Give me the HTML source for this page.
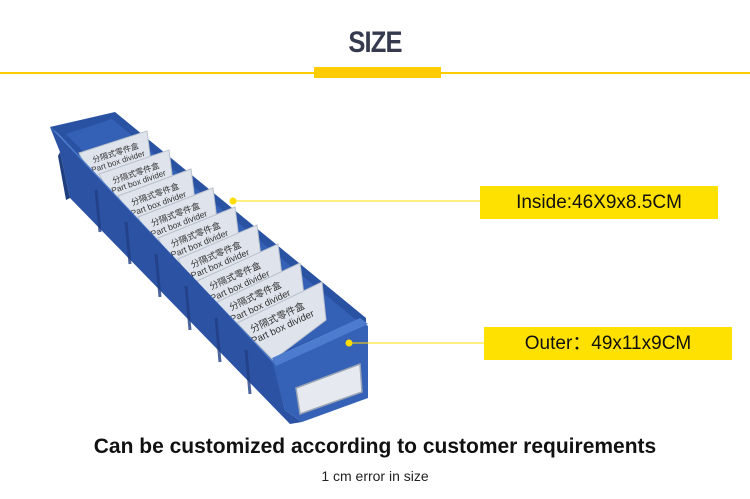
<!DOCTYPE html>
<html><head><meta charset="utf-8"><style>
body{margin:0;width:750px;height:499px;background:#fff;overflow:hidden;position:relative;font-family:"Liberation Sans","Noto Sans CJK SC",sans-serif}
.t{position:absolute;left:0;width:750px;text-align:center}
.lab{position:absolute;background:#ffe100;color:#111;font-size:19px;line-height:33px;text-align:center}
</style></head><body>
<div class="t" style="top:26px;font-size:30px;font-weight:bold;color:#363a4f;letter-spacing:-1px;transform:scaleX(0.85)">SIZE</div>
<div style="position:absolute;left:0;top:72px;width:750px;height:2px;background:#ffcc00"></div>
<div style="position:absolute;left:314px;top:67px;width:127px;height:11px;background:#ffcc00"></div>
<svg width="750" height="499" style="position:absolute;left:0;top:0" font-family="Liberation Sans, Noto Sans CJK SC, sans-serif">
<polygon points="50,127 115,112 366,318 366,330 272,366" fill="#2a52a3"/>
<polygon points="66,134 112,119 356,320 282,352" fill="#3461b6"/>
<g fill="#333">
<g><polygon points="79,153 147,131 152,171 99,191" fill="#dfe4ec" stroke="#b8c0cc"/><text transform="translate(84,166) rotate(-18)" font-size="8"><tspan x="10" y="0">分隔式零件盒</tspan><tspan x="6" y="9">Part box divider</tspan></text></g>
<g><polygon points="99,174 169,150 174,190 119,212" fill="#dfe4ec" stroke="#b8c0cc"/><text transform="translate(104,187) rotate(-19)" font-size="8.2"><tspan x="10" y="0">分隔式零件盒</tspan><tspan x="6" y="9">Part box divider</tspan></text></g>
<g><polygon points="118,196 191,169 196,209 138,234" fill="#dfe4ec" stroke="#b8c0cc"/><text transform="translate(123,209) rotate(-20)" font-size="8.4"><tspan x="10" y="0">分隔式零件盒</tspan><tspan x="6" y="10">Part box divider</tspan></text></g>
<g><polygon points="138,217 213,188 218,228 158,255" fill="#dfe4ec" stroke="#b8c0cc"/><text transform="translate(143,230) rotate(-21)" font-size="8.6"><tspan x="10" y="0">分隔式零件盒</tspan><tspan x="6" y="10">Part box divider</tspan></text></g>
<g><polygon points="158,238 235,207 240,247 178,276" fill="#dfe4ec" stroke="#b8c0cc"/><text transform="translate(163,251) rotate(-22)" font-size="8.8"><tspan x="10" y="0">分隔式零件盒</tspan><tspan x="6" y="10">Part box divider</tspan></text></g>
<g><polygon points="178,259 257,225 262,265 198,297" fill="#dfe4ec" stroke="#b8c0cc"/><text transform="translate(183,272) rotate(-23)" font-size="9"><tspan x="10" y="0">分隔式零件盒</tspan><tspan x="6" y="10">Part box divider</tspan></text></g>
<g><polygon points="197,281 278,244 283,284 217,319" fill="#dfe4ec" stroke="#b8c0cc"/><text transform="translate(202,294) rotate(-24)" font-size="9.2"><tspan x="10" y="0">分隔式零件盒</tspan><tspan x="6" y="11">Part box divider</tspan></text></g>
<g><polygon points="217,302 300,263 305,303 240,340" fill="#dfe4ec" stroke="#b8c0cc"/><text transform="translate(222,315) rotate(-25)" font-size="9.4"><tspan x="10" y="0">分隔式零件盒</tspan><tspan x="6" y="11">Part box divider</tspan></text></g>
<g><polygon points="237,323 322,282 326,320 273,360" fill="#dfe4ec" stroke="#b8c0cc"/><text transform="translate(243,337) rotate(-25)" font-size="9.8"><tspan x="10" y="0">分隔式零件盒</tspan><tspan x="6" y="11">Part box divider</tspan></text></g>
</g>
<polygon points="272,362 362,322 368,326 368,398 302,422 285,410" fill="#3562b6"/>
<polygon points="272,358 360,318 368,324 276,366" fill="#4d7ccf"/>
<polygon points="296,388 360,364 362,392 300,414" fill="#e6eaf0" stroke="#99a4b4" stroke-width="1.5"/>
<polygon points="50,127 272,360 285,410 302,422 290,424 70,198 60,152" fill="#2c53a3"/>
<polygon points="50,127 58,133 276,366 272,360" fill="#4d7ccf"/>
<g stroke="#213f85" stroke-width="3" opacity="0.8">
<line x1="96" y1="190" x2="100" y2="232"/><line x1="126" y1="222" x2="130" y2="264"/><line x1="156" y1="254" x2="160" y2="297"/><line x1="186" y1="286" x2="190" y2="330"/><line x1="216" y1="318" x2="220" y2="362"/><line x1="246" y1="350" x2="250" y2="394"/>
</g>
<polygon points="60,152 70,198 66,200 58,156" fill="#1f3e80"/>
<circle cx="233" cy="201" r="3.5" fill="#ffdd00"/>
<line x1="233" y1="201" x2="480" y2="201" stroke="#ffdd00" stroke-width="1"/>
<circle cx="349" cy="343" r="3.5" fill="#ffdd00"/>
<line x1="349" y1="343" x2="485" y2="343" stroke="#ffdd00" stroke-width="1"/>
</svg>
<div class="lab" style="left:480px;top:186px;width:238px;height:33px">Inside:46X9x8.5CM</div>
<div class="lab" style="left:484px;top:327px;width:248px;height:33px">Outer：49x11x9CM</div>
<div class="t" style="top:435px;font-size:21px;font-weight:bold;color:#111">Can be customized according to customer requirements</div>
<div class="t" style="top:468px;font-size:14px;color:#222">1 cm error in size</div>
</body></html>
